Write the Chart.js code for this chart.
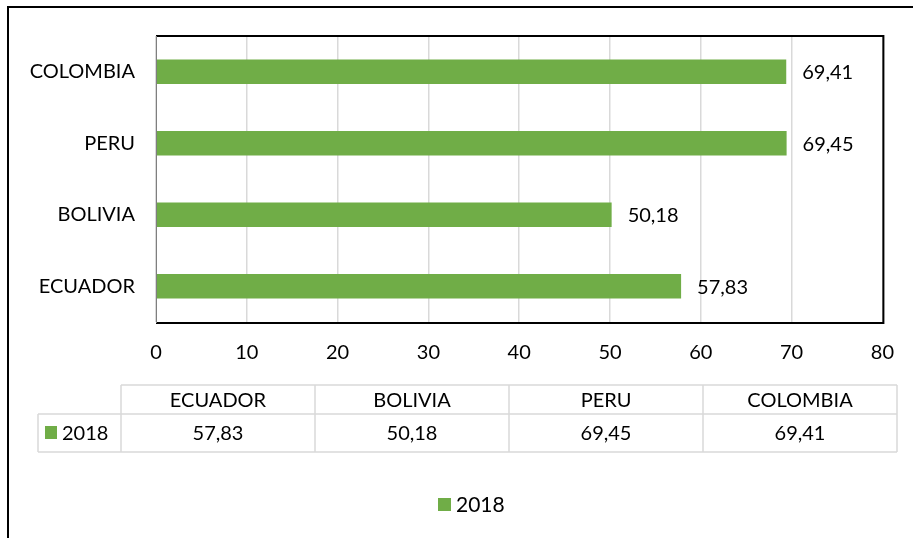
<!DOCTYPE html>
<html><head><meta charset="utf-8">
<script src="https://cdn.jsdelivr.net/npm/chart.js@4/dist/chart.umd.min.js"></script>
<style>html,body{margin:0;padding:0;background:#fff}#c{display:block}</style>
</head><body>
<canvas id="c" width="913" height="538"></canvas>
<script>
const categories = ['ECUADOR', 'BOLIVIA', 'PERU', 'COLOMBIA'];
const seriesName = '2018';
const values2018 = [57.83, 50.18, 69.45, 69.41];
const xTicks = [0, 10, 20, 30, 40, 50, 60, 70, 80];

const GREEN = '#70AD47';
const FONT = 'Lato, "Open Sans", sans-serif';
const fmt = v => v.toFixed(2).replace('.', ',');

const decor = {
  id: 'decor',
  afterDraw(chart) {
    const ctx = chart.ctx;
    const a = chart.chartArea;
    ctx.save();
    // outer frame
    ctx.strokeStyle = '#000'; ctx.lineWidth = 2;
    ctx.beginPath(); ctx.moveTo(8, 538); ctx.lineTo(8, 7); ctx.lineTo(913, 7); ctx.stroke();
    // plot border
    ctx.beginPath();
    ctx.moveTo(a.left, a.top); ctx.lineTo(a.right + 1, a.top); ctx.lineTo(a.right + 1, a.bottom + 1); ctx.lineTo(a.left, a.bottom + 1);
    ctx.stroke();
    ctx.strokeStyle = '#7f7f7f'; ctx.lineWidth = 1;
    ctx.beginPath(); ctx.moveTo(a.left + 0.5, a.top); ctx.lineTo(a.left + 0.5, a.bottom + 1); ctx.stroke();

    // data labels
    const meta = chart.getDatasetMeta(0);
    ctx.fillStyle = '#000'; ctx.font = '20px ' + FONT;
    ctx.textAlign = 'left'; ctx.textBaseline = 'middle';
    meta.data.forEach((bar, i) => {
      ctx.fillText(fmt(values2018[i]), bar.x + 16, bar.y + 1);
    });

    // data table
    const x0 = 38, xh = 121, colW = 194, yTop = 385, yMid = 414, yBot = 452;
    ctx.strokeStyle = '#d9d9d9'; ctx.lineWidth = 1.5;
    ctx.beginPath();
    ctx.moveTo(xh, yTop); ctx.lineTo(xh + colW * categories.length, yTop);
    ctx.moveTo(x0, yMid); ctx.lineTo(xh + colW * categories.length, yMid);
    ctx.moveTo(x0, yBot); ctx.lineTo(xh + colW * categories.length, yBot);
    ctx.moveTo(x0, yMid); ctx.lineTo(x0, yBot);
    for (let i = 0; i <= categories.length; i++) {
      ctx.moveTo(xh + colW * i, yTop); ctx.lineTo(xh + colW * i, yBot);
    }
    ctx.stroke();
    ctx.fillStyle = '#000'; ctx.textAlign = 'center';
    categories.forEach((c, i) => {
      ctx.fillText(c, xh + colW * i + colW / 2, (yTop + yMid) / 2 + 1);
      ctx.fillText(fmt(values2018[i]), xh + colW * i + colW / 2, (yMid + yBot) / 2 + 1);
    });
    ctx.fillStyle = GREEN; ctx.fillRect(45, 426, 12, 13);
    ctx.fillStyle = '#000'; ctx.textAlign = 'left';
    ctx.fillText(seriesName, 62, (yMid + yBot) / 2 + 1);

    // legend
    ctx.fillStyle = GREEN; ctx.fillRect(438, 498, 13, 13);
    ctx.fillStyle = '#000'; ctx.font = '21px ' + FONT;
    ctx.fillText(seriesName, 456, 505);
    ctx.restore();
  }
};

new Chart(document.getElementById('c'), {
  type: 'bar',
  data: {
    labels: categories,
    datasets: [{ label: seriesName, data: values2018, backgroundColor: GREEN, categoryPercentage: 1, barPercentage: 0.34 }]
  },
  options: {
    indexAxis: 'y',
    responsive: false,
    animation: false,
    layout: { padding: { left: 0, right: 27, top: 36, bottom: 0 } },
    plugins: { legend: { display: false }, tooltip: { enabled: false } },
    scales: {
      x: {
        min: 0, max: 80,
        afterBuildTicks: s => { s.ticks = xTicks.map(v => ({ value: v })); },
        grid: { color: '#d9d9d9', lineWidth: 1.5, drawTicks: false },
        border: { display: false },
        ticks: { color: '#000', font: { size: 20, family: FONT }, padding: 19 },
        afterFit: s => { s.height = 216; }
      },
      y: {
        reverse: true,
        grid: { display: false, drawTicks: false },
        border: { display: false },
        ticks: { color: '#000', font: { size: 20, family: FONT }, padding: 21 },
        afterFit: s => { s.width = 156; }
      }
    }
  },
  plugins: [decor]
});
</script>
</body></html>
